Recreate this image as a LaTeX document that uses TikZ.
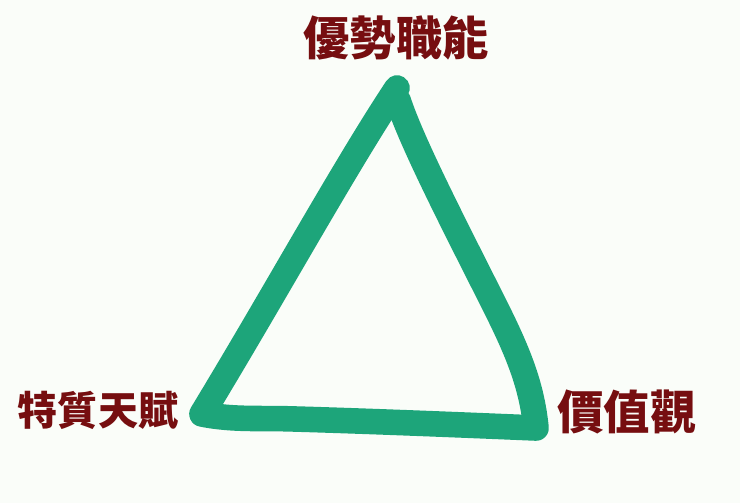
\documentclass[tikz,border=0pt]{standalone}
\usepackage{fontspec}
\newfontfamily\cjk{Noto Sans CJK TC}
\definecolor{pen}{RGB}{29,165,122}
\definecolor{ink}{RGB}{118,14,16}
\definecolor{paper}{RGB}{250,253,249}
\tikzset{
    word/.style={text=ink,font=\cjk\bfseries\fontsize{33}{33}\selectfont,inner sep=0pt},
    stroke/.style={draw=pen,line width=0.64cm,line cap=round,line join=round}
}
\begin{document}
\begin{tikzpicture}
\fill[paper] (0,0) rectangle (18.5,-12.575);
\useasboundingbox (0,0) rectangle (18.5,-12.575);
% hand drawn triangle
\draw[stroke] (9.925,-2.2)
    .. controls (8.6,-4.2) and (6.9,-7.3) .. (5.05,-10.35)
    .. controls (5.8,-10.5) and (6.5,-10.45) .. (7.2,-10.47)
    .. controls (9,-10.52) and (11.5,-10.62) .. (13.4,-10.7)
    .. controls (13.3,-9.7) and (13,-8.9) .. (12.4,-7.7)
    .. controls (11.5,-5.9) and (10.3,-3.6) .. (9.95,-2.5);
\node[word] (yszn) at (9.9,-0.95) {優勢職能};
\node[word,font=\cjk\bfseries\fontsize{28.5}{28.5}\selectfont] (tztf) at (2.45,-10.25) {特質天賦};
\node[word] (jzg) at (15.675,-10.3) {價值觀};
\end{tikzpicture}
\end{document}
